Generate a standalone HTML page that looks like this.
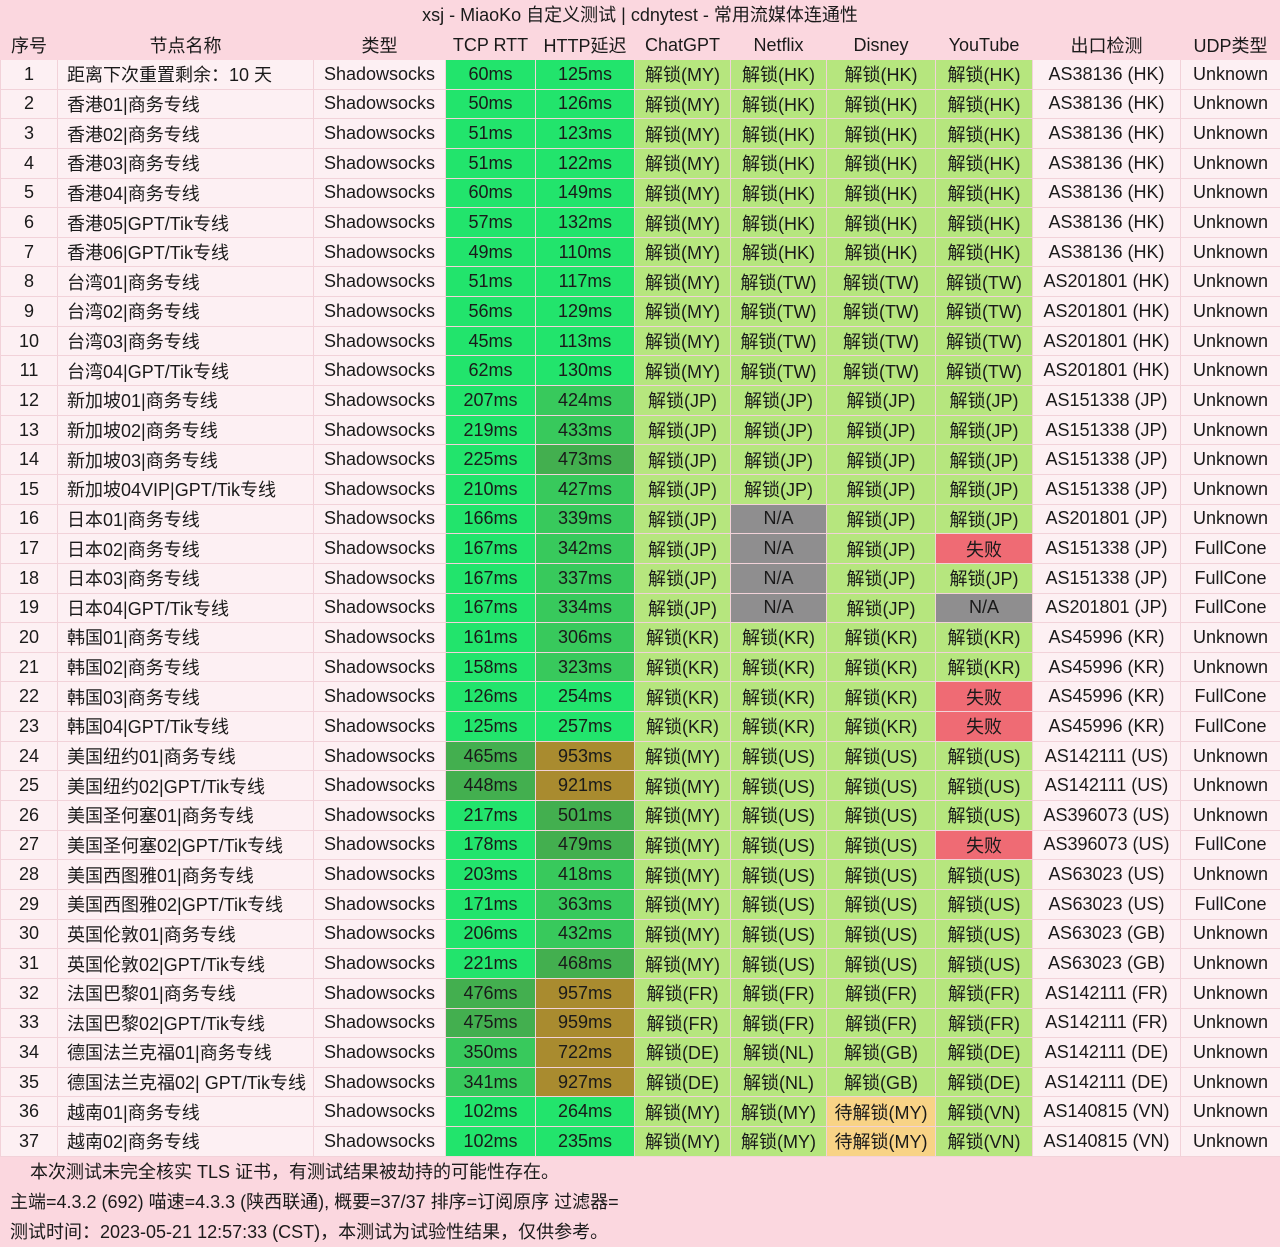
<!DOCTYPE html>
<html><head><meta charset="utf-8"><style>
*{margin:0;padding:0;box-sizing:border-box}
body{width:1280px;height:1246px;background:#fbdae1;font-family:"Liberation Sans","Noto Sans CJK SC",sans-serif;font-size:18px;color:#1a1a1a;overflow:hidden}
.title{height:30px;line-height:30px;text-align:center;background:#fbd7df}
table{border-collapse:collapse;table-layout:fixed;width:1280px}
td{height:29.65px;text-align:center;white-space:nowrap;overflow:hidden;border:1px solid #f2d2d9;background:#fdf0f3;padding:0}
tr.h td{height:29px;background:#fbd7df;border-color:#fbd7df}
td.n{text-align:left;padding-left:9px}
.b{background:#22e46c}.m{background:#38c95c}.d{background:#43af4f}.br{background:#a98b2f}
.u{background:#b6e67e}.x{background:#8f8e8f}.f{background:#ef6b74}.w{background:#f8d386}
.foot{background:#fbd7df;padding-left:10px}
.foot div{height:30px;line-height:30px}
</style></head><body>
<div class="title">xsj - MiaoKo 自定义测试 | cdnytest - 常用流媒体连通性</div>
<table>
<colgroup><col style="width:57px"><col style="width:256px"><col style="width:132px"><col style="width:90px"><col style="width:99px"><col style="width:96px"><col style="width:96px"><col style="width:109px"><col style="width:97px"><col style="width:148px"><col style="width:100px"></colgroup>
<tr class="h"><td>序号</td><td>节点名称</td><td>类型</td><td>TCP RTT</td><td>HTTP延迟</td><td>ChatGPT</td><td>Netflix</td><td>Disney</td><td>YouTube</td><td>出口检测</td><td>UDP类型</td></tr>
<tr><td>1</td><td class="n">距离下次重置剩余：10 天</td><td>Shadowsocks</td><td class="b">60ms</td><td class="b">125ms</td><td class="u">解锁(MY)</td><td class="u">解锁(HK)</td><td class="u">解锁(HK)</td><td class="u">解锁(HK)</td><td>AS38136 (HK)</td><td>Unknown</td></tr>
<tr><td>2</td><td class="n">香港01|商务专线</td><td>Shadowsocks</td><td class="b">50ms</td><td class="b">126ms</td><td class="u">解锁(MY)</td><td class="u">解锁(HK)</td><td class="u">解锁(HK)</td><td class="u">解锁(HK)</td><td>AS38136 (HK)</td><td>Unknown</td></tr>
<tr><td>3</td><td class="n">香港02|商务专线</td><td>Shadowsocks</td><td class="b">51ms</td><td class="b">123ms</td><td class="u">解锁(MY)</td><td class="u">解锁(HK)</td><td class="u">解锁(HK)</td><td class="u">解锁(HK)</td><td>AS38136 (HK)</td><td>Unknown</td></tr>
<tr><td>4</td><td class="n">香港03|商务专线</td><td>Shadowsocks</td><td class="b">51ms</td><td class="b">122ms</td><td class="u">解锁(MY)</td><td class="u">解锁(HK)</td><td class="u">解锁(HK)</td><td class="u">解锁(HK)</td><td>AS38136 (HK)</td><td>Unknown</td></tr>
<tr><td>5</td><td class="n">香港04|商务专线</td><td>Shadowsocks</td><td class="b">60ms</td><td class="b">149ms</td><td class="u">解锁(MY)</td><td class="u">解锁(HK)</td><td class="u">解锁(HK)</td><td class="u">解锁(HK)</td><td>AS38136 (HK)</td><td>Unknown</td></tr>
<tr><td>6</td><td class="n">香港05|GPT/Tik专线</td><td>Shadowsocks</td><td class="b">57ms</td><td class="b">132ms</td><td class="u">解锁(MY)</td><td class="u">解锁(HK)</td><td class="u">解锁(HK)</td><td class="u">解锁(HK)</td><td>AS38136 (HK)</td><td>Unknown</td></tr>
<tr><td>7</td><td class="n">香港06|GPT/Tik专线</td><td>Shadowsocks</td><td class="b">49ms</td><td class="b">110ms</td><td class="u">解锁(MY)</td><td class="u">解锁(HK)</td><td class="u">解锁(HK)</td><td class="u">解锁(HK)</td><td>AS38136 (HK)</td><td>Unknown</td></tr>
<tr><td>8</td><td class="n">台湾01|商务专线</td><td>Shadowsocks</td><td class="b">51ms</td><td class="b">117ms</td><td class="u">解锁(MY)</td><td class="u">解锁(TW)</td><td class="u">解锁(TW)</td><td class="u">解锁(TW)</td><td>AS201801 (HK)</td><td>Unknown</td></tr>
<tr><td>9</td><td class="n">台湾02|商务专线</td><td>Shadowsocks</td><td class="b">56ms</td><td class="b">129ms</td><td class="u">解锁(MY)</td><td class="u">解锁(TW)</td><td class="u">解锁(TW)</td><td class="u">解锁(TW)</td><td>AS201801 (HK)</td><td>Unknown</td></tr>
<tr><td>10</td><td class="n">台湾03|商务专线</td><td>Shadowsocks</td><td class="b">45ms</td><td class="b">113ms</td><td class="u">解锁(MY)</td><td class="u">解锁(TW)</td><td class="u">解锁(TW)</td><td class="u">解锁(TW)</td><td>AS201801 (HK)</td><td>Unknown</td></tr>
<tr><td>11</td><td class="n">台湾04|GPT/Tik专线</td><td>Shadowsocks</td><td class="b">62ms</td><td class="b">130ms</td><td class="u">解锁(MY)</td><td class="u">解锁(TW)</td><td class="u">解锁(TW)</td><td class="u">解锁(TW)</td><td>AS201801 (HK)</td><td>Unknown</td></tr>
<tr><td>12</td><td class="n">新加坡01|商务专线</td><td>Shadowsocks</td><td class="b">207ms</td><td class="m">424ms</td><td class="u">解锁(JP)</td><td class="u">解锁(JP)</td><td class="u">解锁(JP)</td><td class="u">解锁(JP)</td><td>AS151338 (JP)</td><td>Unknown</td></tr>
<tr><td>13</td><td class="n">新加坡02|商务专线</td><td>Shadowsocks</td><td class="b">219ms</td><td class="m">433ms</td><td class="u">解锁(JP)</td><td class="u">解锁(JP)</td><td class="u">解锁(JP)</td><td class="u">解锁(JP)</td><td>AS151338 (JP)</td><td>Unknown</td></tr>
<tr><td>14</td><td class="n">新加坡03|商务专线</td><td>Shadowsocks</td><td class="b">225ms</td><td class="d">473ms</td><td class="u">解锁(JP)</td><td class="u">解锁(JP)</td><td class="u">解锁(JP)</td><td class="u">解锁(JP)</td><td>AS151338 (JP)</td><td>Unknown</td></tr>
<tr><td>15</td><td class="n">新加坡04VIP|GPT/Tik专线</td><td>Shadowsocks</td><td class="b">210ms</td><td class="m">427ms</td><td class="u">解锁(JP)</td><td class="u">解锁(JP)</td><td class="u">解锁(JP)</td><td class="u">解锁(JP)</td><td>AS151338 (JP)</td><td>Unknown</td></tr>
<tr><td>16</td><td class="n">日本01|商务专线</td><td>Shadowsocks</td><td class="b">166ms</td><td class="m">339ms</td><td class="u">解锁(JP)</td><td class="x">N/A</td><td class="u">解锁(JP)</td><td class="u">解锁(JP)</td><td>AS201801 (JP)</td><td>Unknown</td></tr>
<tr><td>17</td><td class="n">日本02|商务专线</td><td>Shadowsocks</td><td class="b">167ms</td><td class="m">342ms</td><td class="u">解锁(JP)</td><td class="x">N/A</td><td class="u">解锁(JP)</td><td class="f">失败</td><td>AS151338 (JP)</td><td>FullCone</td></tr>
<tr><td>18</td><td class="n">日本03|商务专线</td><td>Shadowsocks</td><td class="b">167ms</td><td class="m">337ms</td><td class="u">解锁(JP)</td><td class="x">N/A</td><td class="u">解锁(JP)</td><td class="u">解锁(JP)</td><td>AS151338 (JP)</td><td>FullCone</td></tr>
<tr><td>19</td><td class="n">日本04|GPT/Tik专线</td><td>Shadowsocks</td><td class="b">167ms</td><td class="m">334ms</td><td class="u">解锁(JP)</td><td class="x">N/A</td><td class="u">解锁(JP)</td><td class="x">N/A</td><td>AS201801 (JP)</td><td>FullCone</td></tr>
<tr><td>20</td><td class="n">韩国01|商务专线</td><td>Shadowsocks</td><td class="b">161ms</td><td class="m">306ms</td><td class="u">解锁(KR)</td><td class="u">解锁(KR)</td><td class="u">解锁(KR)</td><td class="u">解锁(KR)</td><td>AS45996 (KR)</td><td>Unknown</td></tr>
<tr><td>21</td><td class="n">韩国02|商务专线</td><td>Shadowsocks</td><td class="b">158ms</td><td class="m">323ms</td><td class="u">解锁(KR)</td><td class="u">解锁(KR)</td><td class="u">解锁(KR)</td><td class="u">解锁(KR)</td><td>AS45996 (KR)</td><td>Unknown</td></tr>
<tr><td>22</td><td class="n">韩国03|商务专线</td><td>Shadowsocks</td><td class="b">126ms</td><td class="b">254ms</td><td class="u">解锁(KR)</td><td class="u">解锁(KR)</td><td class="u">解锁(KR)</td><td class="f">失败</td><td>AS45996 (KR)</td><td>FullCone</td></tr>
<tr><td>23</td><td class="n">韩国04|GPT/Tik专线</td><td>Shadowsocks</td><td class="b">125ms</td><td class="b">257ms</td><td class="u">解锁(KR)</td><td class="u">解锁(KR)</td><td class="u">解锁(KR)</td><td class="f">失败</td><td>AS45996 (KR)</td><td>FullCone</td></tr>
<tr><td>24</td><td class="n">美国纽约01|商务专线</td><td>Shadowsocks</td><td class="d">465ms</td><td class="br">953ms</td><td class="u">解锁(MY)</td><td class="u">解锁(US)</td><td class="u">解锁(US)</td><td class="u">解锁(US)</td><td>AS142111 (US)</td><td>Unknown</td></tr>
<tr><td>25</td><td class="n">美国纽约02|GPT/Tik专线</td><td>Shadowsocks</td><td class="d">448ms</td><td class="br">921ms</td><td class="u">解锁(MY)</td><td class="u">解锁(US)</td><td class="u">解锁(US)</td><td class="u">解锁(US)</td><td>AS142111 (US)</td><td>Unknown</td></tr>
<tr><td>26</td><td class="n">美国圣何塞01|商务专线</td><td>Shadowsocks</td><td class="b">217ms</td><td class="d">501ms</td><td class="u">解锁(MY)</td><td class="u">解锁(US)</td><td class="u">解锁(US)</td><td class="u">解锁(US)</td><td>AS396073 (US)</td><td>Unknown</td></tr>
<tr><td>27</td><td class="n">美国圣何塞02|GPT/Tik专线</td><td>Shadowsocks</td><td class="b">178ms</td><td class="d">479ms</td><td class="u">解锁(MY)</td><td class="u">解锁(US)</td><td class="u">解锁(US)</td><td class="f">失败</td><td>AS396073 (US)</td><td>FullCone</td></tr>
<tr><td>28</td><td class="n">美国西图雅01|商务专线</td><td>Shadowsocks</td><td class="b">203ms</td><td class="m">418ms</td><td class="u">解锁(MY)</td><td class="u">解锁(US)</td><td class="u">解锁(US)</td><td class="u">解锁(US)</td><td>AS63023 (US)</td><td>Unknown</td></tr>
<tr><td>29</td><td class="n">美国西图雅02|GPT/Tik专线</td><td>Shadowsocks</td><td class="b">171ms</td><td class="m">363ms</td><td class="u">解锁(MY)</td><td class="u">解锁(US)</td><td class="u">解锁(US)</td><td class="u">解锁(US)</td><td>AS63023 (US)</td><td>FullCone</td></tr>
<tr><td>30</td><td class="n">英国伦敦01|商务专线</td><td>Shadowsocks</td><td class="b">206ms</td><td class="m">432ms</td><td class="u">解锁(MY)</td><td class="u">解锁(US)</td><td class="u">解锁(US)</td><td class="u">解锁(US)</td><td>AS63023 (GB)</td><td>Unknown</td></tr>
<tr><td>31</td><td class="n">英国伦敦02|GPT/Tik专线</td><td>Shadowsocks</td><td class="b">221ms</td><td class="d">468ms</td><td class="u">解锁(MY)</td><td class="u">解锁(US)</td><td class="u">解锁(US)</td><td class="u">解锁(US)</td><td>AS63023 (GB)</td><td>Unknown</td></tr>
<tr><td>32</td><td class="n">法国巴黎01|商务专线</td><td>Shadowsocks</td><td class="d">476ms</td><td class="br">957ms</td><td class="u">解锁(FR)</td><td class="u">解锁(FR)</td><td class="u">解锁(FR)</td><td class="u">解锁(FR)</td><td>AS142111 (FR)</td><td>Unknown</td></tr>
<tr><td>33</td><td class="n">法国巴黎02|GPT/Tik专线</td><td>Shadowsocks</td><td class="d">475ms</td><td class="br">959ms</td><td class="u">解锁(FR)</td><td class="u">解锁(FR)</td><td class="u">解锁(FR)</td><td class="u">解锁(FR)</td><td>AS142111 (FR)</td><td>Unknown</td></tr>
<tr><td>34</td><td class="n">德国法兰克福01|商务专线</td><td>Shadowsocks</td><td class="m">350ms</td><td class="br">722ms</td><td class="u">解锁(DE)</td><td class="u">解锁(NL)</td><td class="u">解锁(GB)</td><td class="u">解锁(DE)</td><td>AS142111 (DE)</td><td>Unknown</td></tr>
<tr><td>35</td><td class="n">德国法兰克福02| GPT/Tik专线</td><td>Shadowsocks</td><td class="m">341ms</td><td class="br">927ms</td><td class="u">解锁(DE)</td><td class="u">解锁(NL)</td><td class="u">解锁(GB)</td><td class="u">解锁(DE)</td><td>AS142111 (DE)</td><td>Unknown</td></tr>
<tr><td>36</td><td class="n">越南01|商务专线</td><td>Shadowsocks</td><td class="b">102ms</td><td class="b">264ms</td><td class="u">解锁(MY)</td><td class="u">解锁(MY)</td><td class="w">待解锁(MY)</td><td class="u">解锁(VN)</td><td>AS140815 (VN)</td><td>Unknown</td></tr>
<tr><td>37</td><td class="n">越南02|商务专线</td><td>Shadowsocks</td><td class="b">102ms</td><td class="b">235ms</td><td class="u">解锁(MY)</td><td class="u">解锁(MY)</td><td class="w">待解锁(MY)</td><td class="u">解锁(VN)</td><td>AS140815 (VN)</td><td>Unknown</td></tr>
</table>
<div class="foot">
<div>&nbsp;&nbsp;&nbsp;&nbsp;本次测试未完全核实 TLS 证书，有测试结果被劫持的可能性存在。</div>
<div>主端=4.3.2 (692) 喵速=4.3.3 (陕西联通), 概要=37/37 排序=订阅原序 过滤器=</div>
<div>测试时间：2023-05-21 12:57:33 (CST)，本测试为试验性结果，仅供参考。</div>
</div>
</body></html>
